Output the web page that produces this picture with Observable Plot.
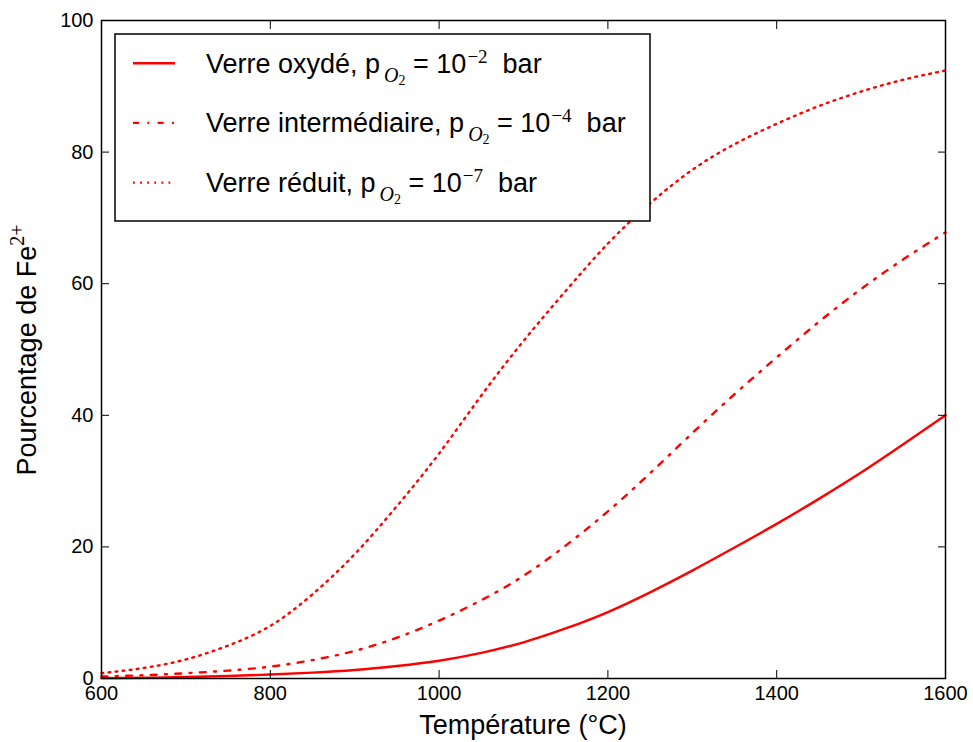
<!DOCTYPE html>
<html><head><meta charset="utf-8">
<script src="https://cdn.jsdelivr.net/npm/d3@7"></script>
<script src="https://cdn.jsdelivr.net/npm/@observablehq/plot@0.6"></script>
<style>
html,body{margin:0;padding:0;background:#fff;}
#chart{position:relative;width:973px;height:742px;}
</style></head><body><div id="chart"></div>
<script>
// ---- data ----
const temperatures = [600,650,700,750,800,850,900,950,1000,1050,1100,1150,1200,1250,1300,1350,1400,1450,1500,1550,1600];
const oxyde        = [0.05,0.12,0.22,0.38,0.6,0.9,1.3,1.9,2.7,3.9,5.5,7.6,10.1,13.1,16.4,19.9,23.5,27.3,31.3,35.6,40.0];
const intermediaire= [0.3,0.5,0.8,1.2,1.8,2.8,4.2,6.2,8.8,11.9,15.6,20.2,25.4,31.2,37.3,43.2,48.8,54.2,59.2,63.7,67.8];
const reduit       = [0.8,1.6,2.9,5.0,8.0,12.8,18.9,26.2,34.2,43.0,51.3,58.9,66.1,72.2,77.3,81.2,84.3,87.0,89.2,91.0,92.4];
const seriesPrefix = ["Verre oxydé, p", "Verre intermédiaire, p", "Verre réduit, p"];
const seriesExponent = ["−2", "−4", "−7"];
const xTicks = [600, 800, 1000, 1200, 1400, 1600];
const yTicks = [0, 20, 40, 60, 80, 100];
const xLabel = "Température (°C)";
const yLabelMain = "Pourcentage de Fe";
const yLabelSup = "2+";

// ---- styles ----
const dashes = [null, "6,8.3,2,8.3", "1.8,5.3"];
const SANS = "'Liberation Sans', Arial, Helvetica, sans-serif";
const SERIF = "'Liberation Serif', 'DejaVu Serif', serif";
const W = 973, H = 742, mL = 101, mR = 28, mT = 20, mB = 64;

const seriesValues = [oxyde, intermediaire, reduit];
const tables = seriesValues.map(vals => temperatures.map((t, i) => ({T: t, v: vals[i]})));

const plot = Plot.plot({
  width: W, height: H,
  marginLeft: mL, marginRight: mR, marginTop: mT, marginBottom: mB,
  style: {fontFamily: SANS, fontSize: "20px", color: "black", background: "white", overflow: "visible"},
  x: {domain: [600, 1600]},
  y: {domain: [0, 100]},
  marks: [
    ...tables.map((tb, i) => Plot.line(tb, {
      x: "T", y: "v", stroke: "#ff0000", strokeWidth: 2.4,
      strokeDasharray: dashes[i] ?? undefined, curve: "natural"
    })),
    Plot.frame({stroke: "black", strokeWidth: 1.5}),
    Plot.axisX({ticks: xTicks, anchor: "bottom", tickSize: -8, tickPadding: 15, label: null, fontSize: 20, tickFormat: d => String(d)}),
    Plot.axisX({ticks: xTicks, anchor: "top", tickSize: -8, tickFormat: () => "", label: null}),
    Plot.axisY({ticks: yTicks, anchor: "left", tickSize: -8, tickPadding: 16, label: null, fontSize: 20, tickFormat: d => String(d)}),
    Plot.axisY({ticks: yTicks, anchor: "right", tickSize: -8, tickFormat: () => "", label: null})
  ]
});
document.getElementById("chart").appendChild(plot);

const svg = d3.select(plot);

// x label
svg.append("text")
  .attr("x", (mL + W - mR) / 2).attr("y", 734)
  .attr("text-anchor", "middle")
  .attr("font-family", SANS).attr("font-size", 27).attr("fill", "black")
  .text(xLabel);

// y label
const yl = svg.append("text")
  .attr("transform", "translate(36,350) rotate(-90)")
  .attr("text-anchor", "middle")
  .attr("font-family", SANS).attr("font-size", 27).attr("fill", "black");
yl.append("tspan").text(yLabelMain);
yl.append("tspan").attr("dy", -12).attr("font-family", SERIF).attr("font-size", 20).text(yLabelSup);

// legend
const lg = svg.append("g");
lg.append("rect")
  .attr("x", 115).attr("y", 34).attr("width", 535).attr("height", 187)
  .attr("fill", "white").attr("stroke", "black").attr("stroke-width", 1.5);
seriesPrefix.forEach((p, i) => {
  const base = 72.7 + i * 59.7;
  const ln = lg.append("line")
    .attr("x1", 133).attr("x2", 175).attr("y1", base - 9.5).attr("y2", base - 9.5)
    .attr("stroke", "#ff0000").attr("stroke-width", 2.4);
  if (dashes[i]) ln.attr("stroke-dasharray", dashes[i]);
  const t = lg.append("text")
    .attr("x", 206).attr("y", base)
    .attr("text-anchor", "start")
    .attr("font-family", SANS).attr("font-size", 27).attr("fill", "black");
  t.append("tspan").text(p);
  t.append("tspan").attr("dx", 4).attr("dy", 9).attr("font-family", SERIF).attr("font-style", "italic").attr("font-size", 20).text("O");
  t.append("tspan").attr("dy", 3).attr("font-family", SERIF).attr("font-size", 14).text("2");
  t.append("tspan").attr("dy", -12).text("\u00A0= 10");
  t.append("tspan").attr("dx", 1).attr("dy", -10).attr("font-family", SERIF).attr("font-size", 19).text(seriesExponent[i]);
  t.append("tspan").attr("dy", 10).text("\u00A0\u00A0bar");
});
</script>
</body></html>
